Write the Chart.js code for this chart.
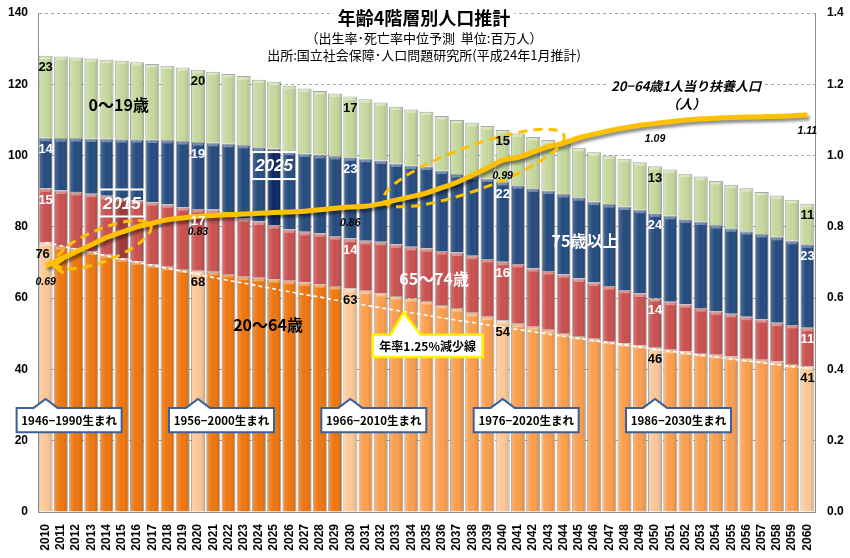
<!DOCTYPE html>
<html><head><meta charset="utf-8">
<script src="https://cdn.jsdelivr.net/npm/chart.js@4.4.0/dist/chart.umd.min.js"></script>
<style>html,body{margin:0;padding:0;background:#fff;}#wrap{width:850px;height:558px;}</style>
</head><body><div id="wrap"><canvas id="c" width="850" height="558"></canvas></div>
<script>
// ---- data (millions of people; ratio in persons) ----
const years = ['2010','2011','2012','2013','2014','2015','2016','2017','2018','2019',
 '2020','2021','2022','2023','2024','2025','2026','2027','2028','2029',
 '2030','2031','2032','2033','2034','2035','2036','2037','2038','2039',
 '2040','2041','2042','2043','2044','2045','2046','2047','2048','2049',
 '2050','2051','2052','2053','2054','2055','2056','2057','2058','2059','2060'];
const pop2064 = [75.6,74.6,74.0,73.1,72.2,71.2,70.3,69.5,68.8,68.2,
 67.7,67.4,66.8,66.0,65.7,65.3,64.9,64.4,63.9,63.4,
 62.7,62.1,61.4,60.6,60.0,59.2,58.1,57.2,55.9,54.8,
 53.8,52.8,52.0,51.1,50.2,49.4,48.6,48.0,47.3,46.8,
 46.1,45.5,45.0,44.6,44.1,43.6,43.2,42.7,42.2,41.5,40.9];
const pop6574 = [15.2,15.6,15.8,16.2,16.5,16.9,17.2,17.4,17.5,17.3,
 17.3,17.5,17.3,16.4,15.8,15.2,14.4,14.2,14.3,14.0,
 14.0,14.0,14.4,14.5,14.4,14.8,15.1,15.6,16.0,16.2,
 16.4,16.8,16.4,16.5,16.5,16.1,15.8,15.4,15.0,14.5,
 13.9,13.5,13.3,12.6,12.2,12.0,11.6,11.4,10.9,11.0,10.8];
const pop75p = [14.2,14.7,15.1,15.5,16.0,16.5,17.1,17.6,18.1,18.6,
 18.8,18.7,19.2,20.6,20.8,21.5,21.8,22.0,22.0,22.5,
 22.8,23.0,22.8,22.7,22.8,22.9,22.6,22.0,22.4,22.6,
 22.4,22.1,22.4,22.6,22.5,22.8,22.7,23.0,23.4,23.5,
 23.8,24.1,23.8,24.3,24.2,24.0,24.0,23.9,24.1,23.6,23.4];
const pop019 = [23.0,22.9,22.6,22.4,22.2,22.0,21.6,21.2,20.8,20.6,
 20.3,19.9,19.6,19.3,19.0,18.7,18.5,18.2,17.9,17.5,
 17.1,16.7,16.3,15.9,15.7,15.4,15.3,15.2,14.9,14.7,
 14.6,14.5,14.4,14.2,14.1,13.9,13.8,13.6,13.4,13.3,
 13.2,13.0,12.8,12.6,12.4,12.2,12.0,11.8,11.6,11.5,11.4];
const supportRatio = [0.69,0.71,0.73,0.75,0.77,0.785,0.80,0.81,0.82,0.825,
 0.83,0.832,0.834,0.836,0.838,0.84,0.842,0.844,0.848,0.852,
 0.856,0.858,0.865,0.875,0.885,0.895,0.91,0.925,0.945,0.965,
 0.987,0.995,1.01,1.025,1.035,1.05,1.06,1.07,1.078,1.085,
 1.09,1.095,1.10,1.103,1.105,1.107,1.108,1.109,1.11,1.112,1.114];
const declineLine = [75.6,74.7,73.7,72.8,71.9,71.0,70.1,69.2,68.4,67.5,
 66.7,65.8,65.0,64.2,63.4,62.6,61.8,61.0,60.3,59.5,
 58.8,58.0,57.3,56.6,55.9,55.2,54.5,53.8,53.2,52.5,
 51.8,51.2,50.6,49.9,49.3,48.7,48.1,47.5,46.9,46.3,
 45.7,45.1,44.6,44.0,43.5,42.9,42.4,41.9,41.3,40.8,40.3];
const leftTicks = [0,20,40,60,80,100,120,140];
const rightTicks = [0,0.2,0.4,0.6,0.8,1.0,1.2,1.4];
const labelIdx = [0,10,20,30,40,50];
const birthLabels = ['1946−1990生まれ','1956−2000生まれ','1966−2010生まれ','1976−2020生まれ','1986−2030生まれ'];
const titleText = '年齢4階層別人口推計';
const sub1 = '（出生率･死亡率中位予測  単位:百万人）';
const sub2 = '出所:国立社会保障･人口問題研究所(平成24年1月推計)';

// ---- styles ----
const JP = '"Noto Sans CJK JP","Noto Sans",sans-serif';
const LS = '"Liberation Sans",Arial,sans-serif';
const orangeCol = years.map((y,i)=> labelIdx.includes(i) ? '#FDC796' : (i<20 ? '#EE760F' : '#FB9E4E'));
const redCol = years.map((y,i)=> i===5 ? '#9C3838' : '#C9504F');
const blueCol = years.map((y,i)=> i===15 ? '#0C2663' : '#244A7E');
const greenCol = years.map(()=> '#C4D89C');
const GOLD = '#FFC000';

const barBase = {type:'bar', stack:'p', order:2, barPercentage:0.92, categoryPercentage:1.0,
  borderColor:'rgba(95,95,95,0.55)', borderWidth:{left:1,right:1,top:1,bottom:0}, borderSkipped:false};

const barShade = {
  id:'barShade',
  beforeDatasetDraw(chart, args){
    if (args.meta.type === 'line' && args.index === 0){
      const c = chart.ctx; c.save();
      c.shadowColor='rgba(0,0,0,0.45)'; c.shadowOffsetX=2; c.shadowOffsetY=3; c.shadowBlur=3;
    }
  },
  afterDatasetDraw(chart, args){
    const c = chart.ctx;
    if (args.meta.type === 'line' && args.index === 0){ c.restore(); return; }
    if (args.meta.type !== 'bar') return;
    c.save();
    args.meta.data.forEach(el=>{
      const w = el.width, l = el.x - w/2, t = Math.min(el.y, el.base), h = Math.abs(el.base - el.y);
      const g = c.createLinearGradient(l,0,l+w,0);
      g.addColorStop(0,'rgba(255,255,255,0.22)');
      g.addColorStop(0.45,'rgba(255,255,255,0.0)');
      g.addColorStop(1,'rgba(0,0,0,0.16)');
      c.fillStyle = g; c.fillRect(l+1,t+1,w-2,h-1);
      c.fillStyle = 'rgba(255,255,255,0.35)';
      c.fillRect(l+2,t+1,w-4,2.5);
    });
    c.restore();
  }
};

function textBg(c, txt, x, y, font, color, bg){
  c.font = font; c.textAlign='center'; c.textBaseline='middle';
  if (bg){ const w = c.measureText(txt).width; c.fillStyle=bg; c.fillRect(x-w/2-4, y-10, w+8, 20); }
  c.fillStyle = color; c.fillText(txt, x, y);
}

const overlay = {
  id:'overlay',
  afterDraw(chart){
    const c = chart.ctx;
    const xs = chart.scales.x, ys = chart.scales.y, yr = chart.scales.y1;
    const x0 = xs.getPixelForValue(0), step = xs.getPixelForValue(1) - x0;
    const px = i => x0 + i*step;
    c.save();
    // dashed ellipses
    c.strokeStyle = GOLD; c.lineWidth = 3; c.setLineDash([9,6]);
    c.beginPath(); c.ellipse(px(3.8), yr.getPixelForValue(0.75), 51, 16, -22*Math.PI/180, 0, 2*Math.PI); c.stroke();
    c.beginPath(); c.ellipse(px(28.1), yr.getPixelForValue(0.965), 96, 22, -20*Math.PI/180, 0, 2*Math.PI); c.stroke();
    c.setLineDash([]);
    // arrow head at 2010
    const lm = chart.getDatasetMeta(0).data[0];
    c.lineWidth = 3; c.beginPath();
    c.moveTo(lm.x+18, lm.y-7); c.lineTo(lm.x+8, lm.y); c.lineTo(lm.x+18, lm.y+7); c.stroke();
    // highlight boxes
    c.strokeStyle='#fff'; c.lineWidth=2;
    [[5,86.7,'2015'],[15,97.2,'2025']].forEach(([i,v,t])=>{
      const cx = px(i), cy = ys.getPixelForValue(v);
      c.strokeRect(cx-22.5, cy-13.5, 45, 27);
      c.font='italic bold 17px '+LS; c.textAlign='center'; c.textBaseline='middle';
      c.fillStyle='#fff'; c.fillText(t, cx, cy+1);
    });
    // segment value labels
    const segCols = ['#000','#fff','#fff','#000'];
    [2,3,4,5].forEach((d,k)=>{
      const meta = chart.getDatasetMeta(d);
      labelIdx.forEach(i=>{
        const el = meta.data[i];
        const v = chart.data.datasets[d].data[i];
        c.font='bold 13px '+LS; c.textAlign='center'; c.textBaseline='middle';
        c.fillStyle = segCols[k];
        c.fillText(String(Math.round(v)), el.x - (i===0 && d===2 ? 3 : 0), el.y + 12);
      });
    });
    // ratio labels
    const rm = chart.getDatasetMeta(0);
    labelIdx.forEach(i=>{
      const el = rm.data[i];
      c.font='italic bold 10.5px '+LS; c.textAlign='center'; c.textBaseline='middle';
      c.fillStyle='#000'; c.fillText(supportRatio[i].toFixed(2), el.x, el.y+16);
    });
    // series labels
    textBg(c,'0〜19歳', px(4.8), ys.getPixelForValue(114.2), 'bold 16px '+JP, '#000');
    textBg(c,'20〜64歳', px(14.6), ys.getPixelForValue(52.5), 'bold 16px '+JP, '#000');
    textBg(c,'65〜74歳', px(25.5), ys.getPixelForValue(65.4), 'bold 16px '+JP, '#fff');
    textBg(c,'75歳以上', px(35.4), ys.getPixelForValue(76.0), 'bold 16px '+JP, '#fff');
    // birth-cohort callouts
    labelIdx.slice(0,5).forEach((i,k)=>{
      const ax = px(i), ay = ys.getPixelForValue(31.7);
      const top = ys.getPixelForValue(29.2), bot = ys.getPixelForValue(22.4);
      const l = ax-29, r = ax+76;
      c.beginPath(); c.moveTo(l,top); c.lineTo(ax-12,top); c.lineTo(ax,ay); c.lineTo(ax+12,top);
      c.lineTo(r,top); c.lineTo(r,bot); c.lineTo(l,bot); c.closePath();
      c.fillStyle='#fff'; c.fill(); c.strokeStyle='#3A6096'; c.lineWidth=2; c.stroke();
      c.font='bold 11.5px '+JP; c.textAlign='center'; c.textBaseline='middle'; c.fillStyle='#000';
      c.fillText(birthLabels[k], (l+r)/2, (top+bot)/2+1);
    });
    // decline-rate callout
    {
      const ax = px(23.5), ay = ys.getPixelForValue(56.0);
      const top = ys.getPixelForValue(49.7), bot = ys.getPixelForValue(43.5);
      const l = ax-31, r = ax+79;
      c.beginPath(); c.moveTo(l,top); c.lineTo(ax-13,top); c.lineTo(ax,ay); c.lineTo(ax+17,top);
      c.lineTo(r,top); c.lineTo(r,bot); c.lineTo(l,bot); c.closePath();
      c.fillStyle='#fff'; c.fill(); c.strokeStyle='#FFF200'; c.lineWidth=2.5; c.stroke();
      c.font='bold 12px '+JP; c.textAlign='center'; c.textBaseline='middle'; c.fillStyle='#000';
      c.fillText('年率1.25%減少線', (l+r)/2, (top+bot)/2+1);
    }
    // titles
    const cx = 424;
    textBg(c, titleText, cx, 18, 'bold 18px '+JP, '#000', '#fff');
    textBg(c, sub1, cx, 38, '13px '+JP, '#000', '#fff');
    textBg(c, sub2, cx, 55, '13px '+JP, '#000', '#fff');
    textBg(c, '20−64歳1人当り扶養人口', 686, 86, 'italic bold 13px '+JP, '#000', '#fff');
    textBg(c, '（人）', 686, 104, 'italic bold 13px '+JP, '#000');
    c.restore();
  }
};

new Chart(document.getElementById('c'), {
  data: {
    labels: years,
    datasets: [
      {type:'line', label:'20-64歳1人当り扶養人口', data: supportRatio, yAxisID:'y1', borderColor:GOLD,
        borderWidth:5, pointRadius:0, tension:0.4, order:0, fill:false},
      {type:'line', label:'年率1.25%減少線', data: declineLine, yAxisID:'y2', borderColor:'#fff',
        borderWidth:1.6, borderDash:[4,3], pointRadius:0, order:1, fill:false},
      Object.assign({label:'20〜64歳', data: pop2064, backgroundColor: orangeCol}, barBase),
      Object.assign({label:'65〜74歳', data: pop6574, backgroundColor: redCol}, barBase),
      Object.assign({label:'75歳以上', data: pop75p, backgroundColor: blueCol}, barBase),
      Object.assign({label:'0〜19歳', data: pop019, backgroundColor: greenCol}, barBase)
    ]
  },
  options: {
    responsive:false, animation:false, devicePixelRatio:1,
    layout:{padding:{top:13,left:0,right:0,bottom:0}},
    plugins:{legend:{display:false}, tooltip:{enabled:false}},
    scales:{
      x:{stacked:true, grid:{display:false}, border:{display:true,color:'#8c8c8c'},
        ticks:{autoSkip:false, maxRotation:90, minRotation:90, padding:4, color:'#000', font:{family:LS, weight:'bold', size:12}},
        afterFit(s){ s.height = 46; s.paddingLeft = 0; s.paddingRight = 0; }},
      y:{stacked:true, min:0, max:140, afterBuildTicks(s){ s.ticks = leftTicks.map(v=>({value:v})); },
        grid:{color:'#a6a6a6', drawTicks:false}, border:{display:true, color:'#8c8c8c', dash:[3,3]},
        ticks:{padding:10, color:'#000', font:{family:LS, weight:'bold', size:12}},
        afterFit(s){ s.width = 38; s.paddingTop = 0; s.paddingBottom = 0; }},
      y1:{position:'right', min:0, max:1.4, afterBuildTicks(s){ s.ticks = rightTicks.map(v=>({value:v})); },
        grid:{display:false, drawTicks:false}, border:{display:true, color:'#8c8c8c'},
        ticks:{padding:12, color:'#000', font:{family:LS, weight:'bold', size:12}, callback:v=>Number(v).toFixed(1)},
        afterFit(s){ s.width = 35; s.paddingTop = 0; s.paddingBottom = 0; }},
      y2:{display:false, min:0, max:140}
    }
  },
  plugins:[barShade, overlay]
});
</script>
</body></html>
